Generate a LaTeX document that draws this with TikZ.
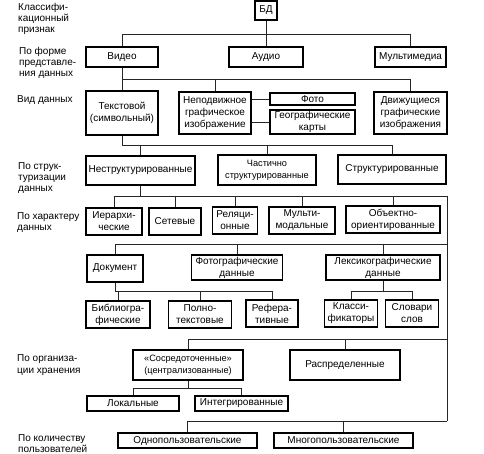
\documentclass[tikz,border=0pt]{standalone}
\usepackage{fontspec}
\setmainfont{Liberation Sans}
\begin{document}
\begin{tikzpicture}[x=1pt,y=-1pt,
  bx/.style={draw=black,line width=1.4pt,inner sep=0pt,align=center,font=\fontsize{10}{12}\selectfont},
  nbx/.style={bx,font=\fontsize{9.2}{12}\selectfont},
  cn/.style={line width=0.8pt,draw=black!85},
  lbl/.style={anchor=base west,inner sep=0pt,font=\fontsize{10}{12}\selectfont}]
\useasboundingbox (0,0) rectangle (484,453);
% labels
\node[lbl] (l1a) at (18,10) {Классифи-};
\node[lbl] (l1b) at (18,21) {кационный};
\node[lbl] (l1c) at (18,32) {признак};
\node[lbl] (l2a) at (19,54) {По форме};
\node[lbl] (l2b) at (19,65) {представле-};
\node[lbl] (l2c) at (19,76) {ния данных};
\node[lbl] (l3a) at (17,102) {Вид данных};
\node[lbl] (l4a) at (18,169) {По струк-};
\node[lbl] (l4b) at (18,180) {туризации};
\node[lbl] (l4c) at (18,191) {данных};
\node[lbl] (l5a) at (17,219) {По характеру};
\node[lbl] (l5b) at (17,230) {данных};
\node[lbl] (l6a) at (17,361) {По организа-};
\node[lbl] (l6b) at (17,373) {ции хранения};
\node[lbl] (l7a) at (18,441) {По количеству};
\node[lbl] (l7b) at (18,452) {пользователей};
% boxes
\node[bx,minimum width=22,minimum height=19] (bd) at (266,10.5) {БД};
\node[bx,minimum width=72,minimum height=20] (vid) at (122,57) {Видео};
\node[bx,minimum width=74,minimum height=20] (aud) at (266,57) {Аудио};
\node[bx,minimum width=71,minimum height=20] (mm) at (410.5,57) {Мультимедиа};
\node[bx,minimum width=72,minimum height=44] (txt) at (122,113) {Текстовой\\(символьный)};
\node[bx,minimum width=72,minimum height=42] (nep) at (215,113) {Неподвижное\\графическое\\изображение};
\node[bx,minimum width=85,minimum height=12] (foto) at (312.5,99) {Фото};
\node[bx,minimum width=85,minimum height=24] (geo) at (312.5,122) {Географические\\карты};
\node[bx,minimum width=73,minimum height=42] (dvig) at (410.5,113) {Движущиеся\\графические\\изображения};
\node[bx,minimum width=109,minimum height=29] (nestr) at (140.5,170.5) {Неструктурированные};
\node[nbx,minimum width=98,minimum height=30] (chast) at (267,170) {Частично\\структурированные};
\node[bx,minimum width=108,minimum height=29] (str) at (392,169.5) {Структурированные};
\node[bx,minimum width=56,minimum height=27] (ier) at (114,221.5) {Иерархи-\\ческие};
\node[bx,minimum width=52,minimum height=27] (set) at (175,221.5) {Сетевые};
\node[bx,minimum width=45,minimum height=27] (rel) at (235,220.5) {Реляци-\\онные};
\node[bx,minimum width=66,minimum height=27] (mult) at (302,220.5) {Мульти-\\модальные};
\node[bx,minimum width=94,minimum height=27] (obj) at (393,219.5) {Объектно-\\ориентированные};
\node[bx,minimum width=56,minimum height=27] (doc) at (115,268.5) {Документ};
\node[bx,minimum width=91,minimum height=25] (fotod) at (237,267.5) {Фотографические\\данные};
\node[bx,minimum width=114,minimum height=25] (lex) at (383,267.5) {Лексикографические\\данные};
\node[bx,minimum width=64,minimum height=27] (bib) at (118,314.5) {Библиогра-\\фические};
\node[bx,minimum width=63,minimum height=27] (poln) at (200,314.5) {Полно-\\текстовые};
\node[bx,minimum width=52,minimum height=27] (ref) at (272,313.5) {Рефера-\\тивные};
\node[bx,minimum width=53,minimum height=27] (kl) at (351,313.5) {Класси-\\фикаторы};
\node[bx,minimum width=53,minimum height=27] (slov) at (412,313.5) {Словари\\слов};
\node[nbx,minimum width=110,minimum height=30] (sosr) at (188,365) {«Сосредоточенные»\\(централизованные)};
\node[bx,minimum width=110,minimum height=30] (rasp) at (345,365) {Распределенные};
\node[bx,minimum width=92,minimum height=15] (lok) at (133,403.5) {Локальные};
\node[bx,minimum width=93,minimum height=15] (integ) at (241.5,403.5) {Интегрированные};
\node[bx,minimum width=139,minimum height=15] (odn) at (187.5,440.5) {Однопользовательские};
\node[bx,minimum width=139,minimum height=15] (mnog) at (343.5,440.5) {Многопользовательские};
% bus levels
\coordinate (y1) at (0,34);
\coordinate (y2) at (0,79);
\coordinate (y3) at (0,145);
\coordinate (y4) at (0,196);
\coordinate (y5) at (0,244);
\coordinate (y6) at (0,291);
\coordinate (y7) at (0,339);
\coordinate (y8) at (0,388);
\coordinate (y9) at (0,421);
\coordinate (sp) at (447,196);
\coordinate (spb) at (447,421);
% connectors
\draw[cn] (bd.south) -- (aud.north);
\draw[cn] (vid.north) |- (mm.north |- y1) -- (mm.north);
\draw[cn] (vid.south) -- (vid.south |- y2);
\draw[cn] (txt.north) |- (dvig.north |- y2) -- (dvig.north);
\draw[cn] (nep.north) -- (nep.north |- y2);
\draw[cn] (nep.east |- foto.west) -- (foto.west);
\draw[cn] (nep.east |- geo.west) -- (geo.west);
\draw[cn] (txt.south) |- (str.north |- y3) -- (str.north);
\draw[cn] (nestr.north) -- (nestr.north |- y3);
\draw[cn] (chast.north) -- (chast.north |- y3);
\draw[cn] (nestr.south) -- (nestr.south |- y4);
\draw[cn] (ier.north) |- (sp) -- (spb);
\draw[cn] (set.north) -- (set.north |- y4);
\draw[cn] (rel.north) -- (rel.north |- y4);
\draw[cn] (mult.north) -- (mult.north |- y4);
\draw[cn] (obj.north) -- (obj.north |- y4);
\draw[cn] (doc.north) |- (sp |- y5);
\draw[cn] (fotod.north) -- (fotod.north |- y5);
\draw[cn] (lex.north) -- (lex.north |- y5);
\draw[cn] (doc.south) |- (ref.north |- y6) -- (ref.north);
\draw[cn] (bib.north) -- (bib.north |- y6);
\draw[cn] (poln.north) -- (poln.north |- y6);
\draw[cn] (lex.south) -- (lex.south |- y6);
\draw[cn] (kl.north) |- (slov.north |- y6) -- (slov.north);
\draw[cn] (sosr.north) |- (sp |- y7);
\draw[cn] (rasp.north) -- (rasp.north |- y7);
\draw[cn] (sosr.south) -- (sosr.south |- y8);
\draw[cn] (lok.north) |- (integ.north |- y8) -- (integ.north);
\draw[cn] (odn.north) |- (spb);
\draw[cn] (mnog.north) -- (mnog.north |- y9);
\end{tikzpicture}
\end{document}
